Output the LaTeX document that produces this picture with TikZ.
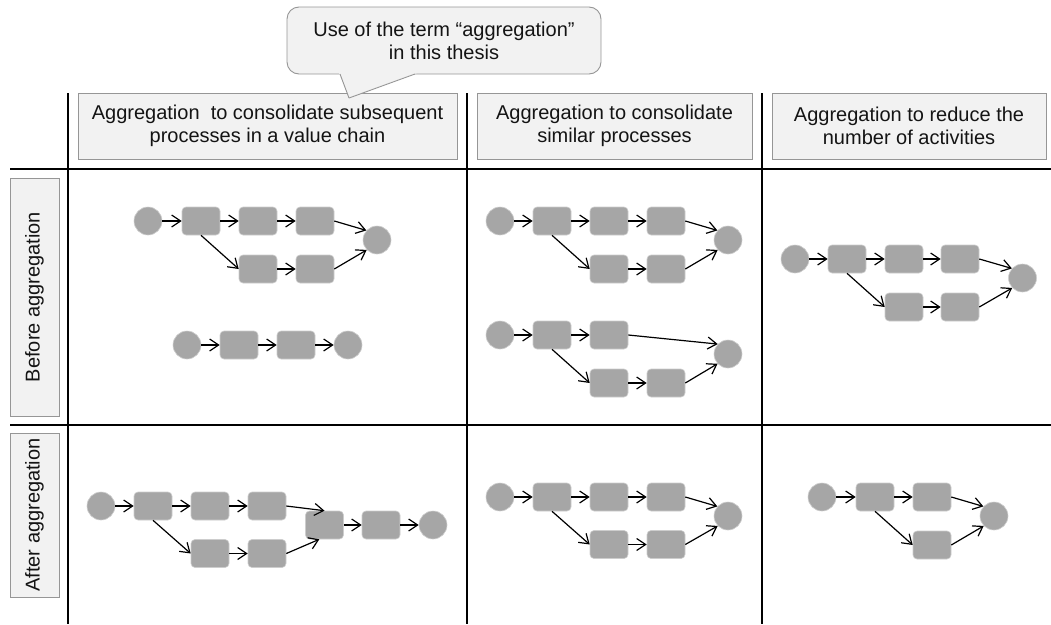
\documentclass[tikz,border=0pt]{standalone}
\usepackage{fontspec}
\setmainfont{Liberation Sans}
\usetikzlibrary{arrows.meta,calc}
\definecolor{actfill}{RGB}{166,166,166}
\definecolor{actedge}{RGB}{205,205,205}
\definecolor{boxfill}{RGB}{242,242,242}
\definecolor{boxedge}{RGB}{150,150,150}
\definecolor{ink}{RGB}{20,20,20}

\begin{document}
\begin{tikzpicture}[x=1pt,y=-1pt,
  every node/.style={font=\fontsize{20}{23}\selectfont, text=ink},
  ev/.style={circle, fill=actfill, draw=actedge, line width=0.6pt,
    minimum size=28pt, inner sep=0pt},
  act/.style={rectangle, rounded corners=4pt, fill=actfill, draw=actedge,
    line width=0.6pt, minimum width=38pt, minimum height=28pt, inner sep=0pt},
  flow/.style={draw=black, line width=1.2pt,
    -{Straight Barb[length=9pt,width=12pt,line width=1.2pt]}},
  hdrbox/.style={draw=boxedge, fill=boxfill, line width=0.8pt, align=center,
    inner sep=0pt},
  sidebox/.style={draw=boxedge, fill=boxfill, line width=0.8pt, rotate=90,
    inner sep=0pt, minimum height=49pt},
  gridline/.style={line width=2.2pt, draw=black},
  calloutstyle/.style={fill=boxfill, draw=boxedge, line width=0.9pt}
]
\useasboundingbox (0,0) rectangle (1051,624);

% table rules
\draw[gridline] (10,169) -- (1051,169);
\draw[gridline] (10,425) -- (1051,425);
\draw[gridline] (68,93) -- (68,624);
\draw[gridline] (467,93) -- (467,624);
\draw[gridline] (762,93) -- (762,624);

% column headers
\node[hdrbox, minimum width=379pt, minimum height=66pt] (h1) at (267.5,126)
  {Aggregation\ \ to consolidate subsequent\\processes in a value chain};
\node[hdrbox, minimum width=275pt, minimum height=66pt] (h2) at (614.5,126)
  {Aggregation to consolidate\\similar processes};
\node[hdrbox, minimum width=274pt, minimum height=66pt] (h3) at (909,126)
  {Aggregation to reduce the\\number of activities};

% row headers
\node[sidebox, minimum width=238pt] (rb) at (34.5,297) {Before aggregation};
\node[sidebox, minimum width=164pt] (ra) at (34.5,515) {After aggregation};

% callout
\node[calloutstyle, rounded corners=12pt, minimum width=314pt, minimum height=67pt,
  align=center, inner sep=0pt] (call) at (444,40.5)
  {Use of the term “aggregation”\\in this thesis};
\fill[boxfill] (339,73) -- (349,98) -- (417,73) -- cycle;
\draw[boxedge, line width=0.9pt, line join=round] (340,74) -- (349,98) -- (415,74);

% ---- subsequent processes, before: branching chain
\node[ev]  (pS) at (148,221) {};
\node[act] (pA) at (201,221) {};
\node[act] (pB) at (258,221) {};
\node[act] (pC) at (315,221) {};
\node[act] (pD) at (258,269) {};
\node[act] (pE) at (315,269) {};
\node[ev]  (pT) at (377,240) {};
\draw[flow] (pS) -- (pA);
\draw[flow] (pA) -- (pB);
\draw[flow] (pB) -- (pC);
\draw[flow] (pA.south) -- (pD.west);
\draw[flow] (pD) -- (pE);
\draw[flow] (pC.east) -- (pT.138);
\draw[flow] (pE.east) -- (pT.224);

% ---- subsequent processes, before: short chain
\node[ev]  (qS) at (187,345) {};
\node[act] (qA) at (239,345) {};
\node[act] (qB) at (296,345) {};
\node[ev]  (qT) at (348,345) {};
\draw[flow] (qS) -- (qA);
\draw[flow] (qA) -- (qB);
\draw[flow] (qB) -- (qT);

% ---- similar processes, before: first variant
\node[ev]  (rS) at (500,221) {};
\node[act] (rA) at (552,221) {};
\node[act] (rB) at (609,221) {};
\node[act] (rC) at (666,221) {};
\node[act] (rD) at (609,269) {};
\node[act] (rE) at (666,269) {};
\node[ev]  (rT) at (728,240) {};
\draw[flow] (rS) -- (rA);
\draw[flow] (rA) -- (rB);
\draw[flow] (rB) -- (rC);
\draw[flow] (rA.south) -- (rD.west);
\draw[flow] (rD) -- (rE);
\draw[flow] (rC.east) -- (rT.138);
\draw[flow] (rE.east) -- (rT.224);

% ---- similar processes, before: second variant
\node[ev]  (sS) at (500,335) {};
\node[act] (sA) at (552,335) {};
\node[act] (sB) at (609,335) {};
\node[act] (sD) at (609,383) {};
\node[act] (sE) at (666,383) {};
\node[ev]  (sT) at (728,354) {};
\draw[flow] (sS) -- (sA);
\draw[flow] (sA) -- (sB);
\draw[flow] (sA.south) -- (sD.west);
\draw[flow] (sD) -- (sE);
\draw[flow] (sB.east) -- (sT.136);
\draw[flow] (sE.east) -- (sT.223);

% ---- reduce activities, before
\node[ev]  (tS) at (795,259) {};
\node[act] (tA) at (847,259) {};
\node[act] (tB) at (904,259) {};
\node[act] (tC) at (960,259) {};
\node[act] (tD) at (904,307) {};
\node[act] (tE) at (960,307) {};
\node[ev]  (tT) at (1022.5,278) {};
\draw[flow] (tS) -- (tA);
\draw[flow] (tA) -- (tB);
\draw[flow] (tB) -- (tC);
\draw[flow] (tA.south) -- (tD.west);
\draw[flow] (tD) -- (tE);
\draw[flow] (tC.east) -- (tT.138);
\draw[flow] (tE.east) -- (tT.224);

% ---- subsequent processes, after
\node[ev]  (uS) at (101,506) {};
\node[act] (uA) at (153,506) {};
\node[act] (uB) at (210,506) {};
\node[act] (uC) at (267,506) {};
\node[act] (uD) at (210,553.5) {};
\node[act] (uE) at (267,553.5) {};
\node[act] (uM) at (324.5,525) {};
\node[act] (uN) at (381,525) {};
\node[ev]  (uT) at (433,525) {};
\draw[flow] (uS) -- (uA);
\draw[flow] (uA) -- (uB);
\draw[flow] (uB) -- (uC);
\draw[flow] (uA.south) -- (uD.west);
\draw[flow] (uD) -- (uE);
\draw[flow] (uC.east) -- (uM.north);
\draw[flow] (uE.east) -- (uM.250);
\draw[flow] (uM) -- (uN);
\draw[flow] (uN) -- (uT);

% ---- similar processes, after
\node[ev]  (vS) at (500,497) {};
\node[act] (vA) at (552,497) {};
\node[act] (vB) at (609,497) {};
\node[act] (vC) at (666,497) {};
\node[act] (vD) at (609,544.5) {};
\node[act] (vE) at (666,544.5) {};
\node[ev]  (vT) at (728,516) {};
\draw[flow] (vS) -- (vA);
\draw[flow] (vA) -- (vB);
\draw[flow] (vB) -- (vC);
\draw[flow] (vA.south) -- (vD.west);
\draw[flow] (vD) -- (vE);
\draw[flow] (vC.east) -- (vT.138);
\draw[flow] (vE.east) -- (vT.224);

% ---- reduce activities, after
\node[ev]  (wS) at (822,497) {};
\node[act] (wA) at (875,497) {};
\node[act] (wB) at (932,497) {};
\node[act] (wD) at (932,545) {};
\node[ev]  (wT) at (994,516) {};
\draw[flow] (wS) -- (wA);
\draw[flow] (wA) -- (wB);
\draw[flow] (wA.south) -- (wD.west);
\draw[flow] (wB.east) -- (wT.138);
\draw[flow] (wD.east) -- (wT.224);
\end{tikzpicture}
\end{document}
